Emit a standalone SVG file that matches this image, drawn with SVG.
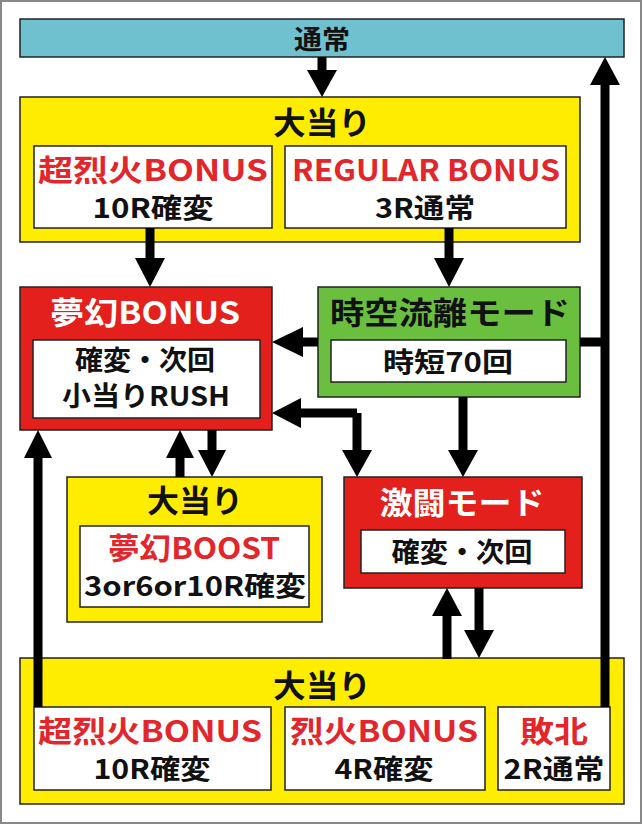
<svg xmlns="http://www.w3.org/2000/svg" width="642" height="824" viewBox="0 0 642 824">
<style>
text{font-family:"Noto Sans CJK JP","Liberation Sans",sans-serif;font-weight:bold;text-anchor:middle;}
.t{font-size:31px;fill:#111;}
.r{font-size:30px;fill:#e3262b;}
.k{font-size:27px;fill:#111;}
.w{font-size:31px;fill:#fff;}
.ye{fill:#ffed00;stroke:#222;stroke-width:1.5;}
.wb{fill:#fff;stroke:#222;stroke-width:1.5;}
.rd{fill:#e3201b;stroke:#222;stroke-width:1.5;}
.ln{fill:none;stroke:#000;stroke-width:9;}
.hd{fill:#000;}
</style>
<rect x="1" y="1" width="640" height="822" fill="#fff" stroke="#888" stroke-width="2"/>
<g id="tsujo"><rect x="20" y="19" width="604" height="38" fill="#6fc1cf" stroke="#222" stroke-width="1.5"/><text class="t" x="322" y="49" style="font-size:26px" textLength="56" lengthAdjust="spacingAndGlyphs">通常</text></g>
<g id="oatari1"><rect class="ye" x="20" y="97" width="560" height="145"/><text class="t" x="322" y="134" textLength="98" lengthAdjust="spacingAndGlyphs">大当り</text>
<rect class="wb" x="34" y="146" width="238" height="82"/><text class="r" x="153" y="181" textLength="230" lengthAdjust="spacingAndGlyphs">超烈火BONUS</text><text class="k" x="153" y="218" textLength="121" lengthAdjust="spacingAndGlyphs">10R確変</text>
<rect class="wb" x="285" y="146" width="281" height="82"/><text class="r" x="426" y="181" textLength="268" lengthAdjust="spacingAndGlyphs">REGULAR BONUS</text><text class="k" x="425" y="218" textLength="100" lengthAdjust="spacingAndGlyphs">3R通常</text></g>
<g id="mugen"><rect class="rd" x="20" y="287" width="252" height="143"/><text class="w" x="145" y="324" textLength="190" lengthAdjust="spacingAndGlyphs">夢幻BONUS</text>
<rect class="wb" x="33" y="340" width="227" height="78"/><text class="k" x="145" y="370" textLength="140" lengthAdjust="spacingAndGlyphs">確変・次回</text><text class="k" x="146" y="406" textLength="168" lengthAdjust="spacingAndGlyphs">小当りRUSH</text></g>
<g id="jiku"><rect x="318" y="287" width="262" height="110" fill="#6abf3f" stroke="#222" stroke-width="1.5"/><text class="t" x="450" y="324" textLength="240" lengthAdjust="spacingAndGlyphs">時空流離モード</text>
<rect class="wb" x="331" y="340" width="235" height="42"/><text class="k" x="448" y="372" textLength="130" lengthAdjust="spacingAndGlyphs">時短70回</text></g>
<g id="boost"><rect class="ye" x="67" y="477" width="255" height="145"/><text class="t" x="195" y="512" textLength="96" lengthAdjust="spacingAndGlyphs">大当り</text>
<rect class="wb" x="80" y="526" width="229" height="81"/><text class="r" x="194" y="559" textLength="172" lengthAdjust="spacingAndGlyphs">夢幻BOOST</text><text class="k" x="195" y="596" textLength="222" lengthAdjust="spacingAndGlyphs">3or6or10R確変</text></g>
<g id="gekito"><rect class="rd" x="344" y="477" width="238" height="111"/><text class="w" x="462" y="514" textLength="165" lengthAdjust="spacingAndGlyphs">激闘モード</text>
<rect class="wb" x="361" y="530" width="204" height="43"/><text class="k" x="462" y="562" textLength="141" lengthAdjust="spacingAndGlyphs">確変・次回</text></g>
<g id="oatari2"><rect class="ye" x="20" y="658" width="604" height="146"/><text class="t" x="322" y="697" textLength="98" lengthAdjust="spacingAndGlyphs">大当り</text>
<rect class="wb" x="34" y="707" width="237" height="83"/><text class="r" x="150" y="742" textLength="224" lengthAdjust="spacingAndGlyphs">超烈火BONUS</text><text class="k" x="152" y="779" textLength="117" lengthAdjust="spacingAndGlyphs">10R確変</text>
<rect class="wb" x="285" y="707" width="200" height="83"/><text class="r" x="384" y="742" textLength="188" lengthAdjust="spacingAndGlyphs">烈火BONUS</text><text class="k" x="384" y="779" textLength="99" lengthAdjust="spacingAndGlyphs">4R確変</text>
<rect class="wb" x="498" y="707" width="112" height="83"/><text class="r" x="554" y="742" textLength="68" lengthAdjust="spacingAndGlyphs">敗北</text><text class="k" x="554" y="779" textLength="101" lengthAdjust="spacingAndGlyphs">2R通常</text></g>
<g id="connectors">
<path class="ln" d="M322 57V72M150 228V260M449 228V260M300 342H318M580 342H605M605 707V82M447 659V612M479 588V632M357 413H297M357 413V452M463 397V452M180 477V456M212 430V452M38 707V456"/>
<polygon class="hd" points="307,70 337,70 322,97"/>
<polygon class="hd" points="135,258 165,258 150,287"/>
<polygon class="hd" points="434,258 464,258 449,287"/>
<polygon class="hd" points="303,327 303,357 272,342"/>
<polygon class="hd" points="590,85 620,85 605,57"/>
<polygon class="hd" points="432,616 462,616 447,588"/>
<polygon class="hd" points="464,630 494,630 479,658"/>
<polygon class="hd" points="301,398 301,428 272,413"/>
<polygon class="hd" points="342,450 372,450 357,477"/>
<polygon class="hd" points="448,450 478,450 463,477"/>
<polygon class="hd" points="166,458 194,458 180,430"/>
<polygon class="hd" points="198,450 226,450 212,477"/>
<polygon class="hd" points="24,458 52,458 38,430"/>
</g>
</svg>
